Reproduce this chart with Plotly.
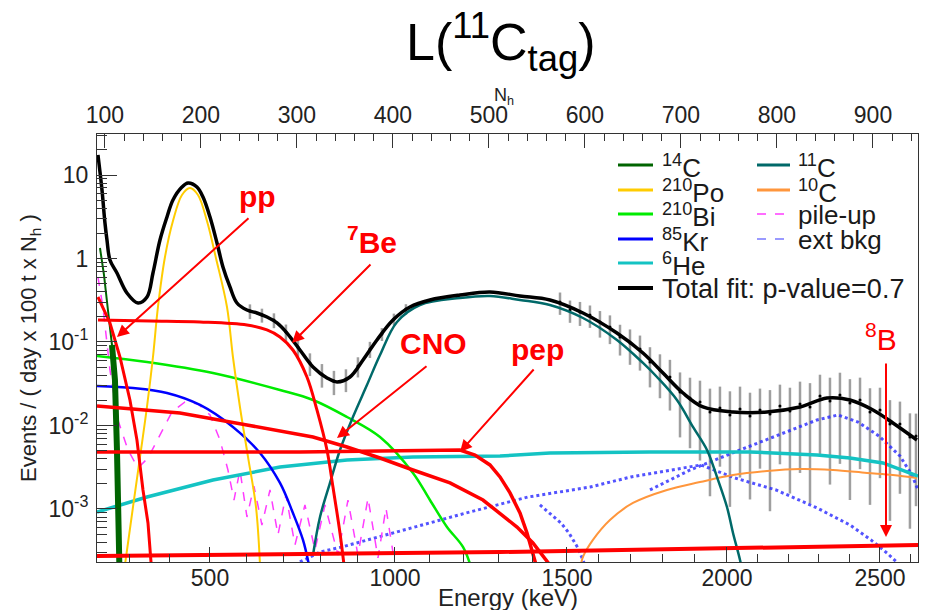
import numpy as np
import plotly.graph_objects as go

# ---------------- data (x: N_h, y: events / (day x 100 t x N_h)) ----------------
total_nh = [92.7, 96.9, 100.0, 102.1, 105.2, 112.5, 122.9, 134.4, 143.8, 150.0, 157.3, 164.6, 170.8,
            180.2, 186.5, 195.8, 202.1, 209.4, 216.7, 222.9, 230.2, 237.5, 247.9, 258.3, 268.8, 279.2,
            289.6, 303.1, 316.7, 331.3, 341.7, 355.2, 368.8, 383.3, 400.0, 417.7, 438.5, 469.8, 501.0,
            532.3, 563.5, 597.9, 633.3, 660.4, 681.3, 702.1, 722.9, 754.2, 789.6, 824.0, 852.1, 876.0,
            900.0, 920.8, 945.8]
total_y = [17.4, 6.61, 2.66, 1.665, 0.96, 0.670, 0.386, 0.293, 0.346, 0.670, 1.665, 3.14, 5.02,
           7.18, 8.02, 7.18, 5.45, 3.14, 1.533, 0.791, 0.456, 0.293, 0.2416, 0.2225, 0.199, 0.169,
           0.128, 0.0802, 0.0502, 0.0371, 0.0332, 0.0381, 0.0609, 0.1057, 0.1834, 0.2625, 0.3185, 0.3655, 0.397,
           0.3556, 0.3185, 0.2225, 0.128, 0.0738, 0.0425, 0.0245, 0.01666, 0.01452, 0.01452, 0.01666, 0.02134, 0.0202,
           0.01534, 0.01072, 0.0067]

data_nh = [251.0, 263.5, 276.0, 288.5, 301.0, 313.5, 326.0, 338.5, 351.0, 363.5, 376.0, 388.5, 401.0, 413.5,
           574.0, 584.4, 594.8, 605.2, 615.6, 626.0, 636.5, 646.9, 657.3, 667.7, 678.1, 688.5, 699.0,
           709.4, 719.8, 730.2, 740.6, 751.0, 761.5, 771.9, 782.3, 792.7, 803.1, 813.5, 824.0, 834.4,
           844.8, 855.2, 865.6, 876.0, 886.5, 896.9, 907.3, 917.7, 928.1, 938.5, 944.8]
data_y = [0.235, 0.2105, 0.1834, 0.1318, 0.0871, 0.0561, 0.0414, 0.0341, 0.0361, 0.0516, 0.0824, 0.1247, 0.1885, 0.2484,
          0.3013, 0.2416, 0.2287, 0.2105, 0.1738, 0.1513, 0.1148, 0.0973, 0.0824, 0.0576, 0.0462, 0.0381, 0.0252,
          0.02134, 0.0191, 0.01452, 0.01621, 0.01336, 0.01578, 0.0130, 0.01534, 0.01374, 0.01713, 0.01493, 0.0181, 0.01666,
          0.02256, 0.01966, 0.02317, 0.01858, 0.0202, 0.01452, 0.01534, 0.01042, 0.01042, 0.00728, 0.00748]
data_err = [0.047, 0.04, 0.037, 0.03, 0.022, 0.017, 0.013, 0.011, 0.011, 0.014, 0.018, 0.022, 0.03, 0.035,
            0.090, 0.072, 0.073, 0.063, 0.061, 0.057, 0.046, 0.044, 0.037, 0.029, 0.025, 0.023, 0.018,
            0.016, 0.0153, 0.0131, 0.013, 0.0123, 0.0134, 0.0117, 0.0123, 0.0128, 0.0137, 0.0134, 0.0154, 0.0155,
            0.018, 0.0177, 0.0197, 0.0173, 0.0172, 0.0134, 0.013, 0.0097, 0.0089, 0.0067, 0.0064]

c14_nh = [94.8, 99.0, 103.1, 107.3, 110.4, 112.5, 114.1, 115.1]
c14_y = [1.336, 0.634, 0.2416, 0.0921, 0.0351, 5.09e-3, 7.38e-4, 1.86e-4]

po_nh = [120.8, 129.2, 136.5, 143.75, 150.0, 155.2, 162.5, 170.8, 180.2, 188.5, 196.9, 206.25, 215.6,
         227.1, 233.3, 240.6, 249.0, 257.3, 261.5]
po_y = [2.13e-4, 1.057e-3, 4.2e-3, 0.01666, 0.0661, 0.2625, 1.042, 2.81, 5.76, 6.99, 5.76, 2.81, 1.014,
        0.2625, 0.0661, 0.01666, 4.2e-3, 1.057e-3, 2.13e-4]

bi_nh = [91.7, 143.75, 212.5, 282.3, 316.7, 352.1, 386.5, 420.8, 438.5, 456.25, 472.9, 482.3]
bi_y = [0.0680, 0.0576, 0.0425, 0.0266, 0.0202, 0.01264, 7.28e-3, 2.70e-3, 1.28e-3, 6.08e-4, 3.51e-4, 1.86e-4]

kr_nh = [91.7, 129.2, 164.6, 199.0, 233.3, 261.5, 282.3, 295.8, 306.25, 312.5]
kr_y = [0.0297, 0.0281, 0.0245, 0.0176, 9.6e-3, 4.69e-3, 2.05e-3, 8.95e-4, 4.26e-4, 2.13e-4]

he_nh = [91.7, 143.75, 212.5, 282.3, 352.1, 420.8, 511.5, 563.5, 667.7, 771.9, 841.7, 876.0, 910.4, 946.9]
he_y = [9.2e-4, 1.39e-3, 2.22e-3, 3.18e-3, 3.86e-3, 4.2e-3, 4.31e-3, 4.69e-3, 4.82e-3, 4.82e-3, 4.43e-3,
        4.08e-3, 3.56e-3, 2.48e-3]

c11_nh = [316.7, 324.0, 334.4, 344.8, 358.3, 372.9, 386.5, 404.2, 428.1, 469.8, 501.0, 532.3, 563.5,
          597.9, 633.3, 660.4, 675.0, 695.8, 712.5, 727.1, 737.5, 747.9, 754.2, 761.5, 764.6]
c11_y = [2.81e-4, 8.02e-4, 2.05e-3, 5.09e-3, 0.01264, 0.0305, 0.0699, 0.1738, 0.2772, 0.3364, 0.3556, 0.3185,
         0.2772, 0.1938, 0.1057, 0.0561, 0.0381, 0.0202, 9.6e-3, 5.09e-3, 2.42e-3, 1.057e-3, 5.16e-4, 2.45e-4, 1.62e-4]

c10_nh = [594.8, 597.9, 608.3, 626.0, 650.0, 685.4, 719.8, 754.2, 789.6, 824.0, 858.3, 893.75, 920.8, 945.8]
c10_y = [1.86e-4, 2.66e-4, 4.26e-4, 7.38e-4, 1.18e-3, 1.69e-3, 2.10e-3, 2.55e-3, 2.85e-3, 3.01e-3, 2.93e-3,
         2.70e-3, 2.55e-3, 2.35e-3]

pile_nh = [92.7, 97.9, 105.2, 113.5, 124.0, 134.4, 144.8, 157.3, 169.8, 183.3, 196.9, 209.4, 219.8, 228.1,
           234.4, 240.6, 247.9, 255.2, 263.5, 271.9, 280.2, 288.5, 297.9, 308.3, 318.75, 329.2, 342.7, 353.1,
           363.5, 374.0, 384.4, 392.7, 402.1]
pile_y = [0.60, 0.2625, 0.0462, 0.01164, 5.09e-3, 3.1e-3, 4.08e-3, 7.69e-3, 0.01452, 0.0191, 0.0181, 0.01336,
          6.7e-3, 2.93e-3, 1.28e-3, 2.93e-3, 8.02e-4, 1.88e-3, 6.43e-4, 1.69e-3, 4.89e-4, 1.47e-3, 3.7e-4,
          1.117e-3, 3.23e-4, 1.117e-3, 2.81e-4, 1.28e-3, 2.81e-4, 1.35e-3, 2.59e-4, 1.03e-3, 2.13e-4]

extA_nh = [303.1, 324.0, 346.9, 411.5, 476.0, 540.6, 605.2, 647.9, 691.7, 720.8, 756.25, 799.0, 841.7,
           876.0, 897.9, 914.6, 928.1]
extA_y = [2.32e-4, 3.05e-4, 3.51e-4, 5.61e-4, 8.95e-4, 1.39e-3, 1.83e-3, 2.42e-3, 2.93e-3, 3.37e-3, 2.35e-3,
          1.69e-3, 1.03e-3, 6.43e-4, 4.26e-4, 2.97e-4, 2.13e-4]
extB_nh = [667.7, 709.4, 756.25, 799.0, 841.7, 863.5, 884.4, 906.25, 928.1, 940.6, 946.9]
extB_y = [1.69e-3, 2.93e-3, 4.82e-3, 7.48e-3, 0.01164, 0.01336, 0.01101, 7.48e-3, 4.31e-3, 2.55e-3, 1.69e-3]
extC_nh = [553.1, 562.5, 575.0, 583.3, 592.7, 600.0]
extC_y = [1.117e-3, 8.95e-4, 6.8e-4, 5.16e-4, 3.41e-4, 2.13e-4]

pp_nh = [92.7, 105.2, 115.6, 126.0, 133.3, 139.6, 144.8, 146.9, 149.0]
pp_y = [0.346, 0.169, 0.0661, 0.0202, 6.7e-3, 1.69e-3, 6.8e-4, 2.66e-4, 1.62e-4]

be7_nh = [92.7, 146.9, 199.0, 247.9, 268.75, 282.3, 295.8, 310.4, 320.8, 331.25, 337.5, 344.8, 349.0]
be7_y = [0.1834, 0.1784, 0.1738, 0.160, 0.1393, 0.1148, 0.0802, 0.0381, 0.01534, 5.09e-3, 1.83e-3, 5.16e-4, 2.13e-4]

cno_nh = [91.7, 178.1, 247.9, 316.7, 352.1, 386.5, 420.8, 459.4, 493.75, 511.5, 529.2, 545.8, 563.5]
cno_y = [0.01713, 0.01413, 0.01014, 7.28e-3, 5.53e-3, 4.08e-3, 2.93e-3, 2.05e-3, 1.28e-3, 8.95e-4, 6.08e-4,
         3.92e-4, 2.13e-4]

pep_nh = [91.7, 303.1, 469.8, 485.4, 501.0, 511.5, 521.9, 532.3, 539.6, 545.8, 550.0]
pep_y = [4.82e-3, 4.82e-3, 5.09e-3, 4.43e-3, 3.37e-3, 2.42e-3, 1.56e-3, 8.95e-4, 5.16e-4, 2.97e-4, 1.96e-4]

b8_nh = [91.7, 511.5, 946.9]
b8_y = [2.74e-4, 3.05e-4, 3.7e-4]

# axis ticks / calibration (energy keV -> N_h)
nh_range = [91.7, 946.9]
y_range_log = [-3.635, 1.491]
e_major = [500, 1000, 1500, 2000, 2500]
e_cal = [200, 500, 1000, 1500, 2000, 2500, 2700]
nh_cal = [83.0, 209.4, 402.1, 581.25, 747.9, 907.3, 970.0]
e_minor = [e for e in range(200, 2700, 100) if e % 500 != 0]
y_major = [1e-3, 1e-2, 1e-1, 1, 10]
y_major_text = ["10<sup>-3</sup>", "10<sup>-2</sup>", "10<sup>-1</sup>", "1", "10"]
y_minor = [m * 10.0 ** k for k in range(-4, 2) for m in range(2, 10)]

# ---------------- colours ----------------
RED = "rgb(255,0,0)"
C14 = "rgb(0,100,0)"
PO = "rgb(255,204,0)"
BI = "rgb(0,235,0)"
KR = "rgb(0,0,255)"
HE = "rgb(20,195,195)"
C11 = "rgb(0,105,105)"
C10 = "rgb(255,150,60)"
PILE = "rgb(255,60,255)"
EXT = "rgba(40,40,255,0.8)"
FONT = "Liberation Sans, Arial, sans-serif"

fig = go.Figure()


def add_line(x, y, color, width, dash="solid", shape="linear"):
    fig.add_trace(go.Scatter(x=x, y=y, mode="lines",
                             line=dict(color=color, width=width, dash=dash, shape=shape),
                             hoverinfo="skip", showlegend=False))


# data with error bars
fig.add_trace(go.Scatter(x=data_nh, y=data_y, mode="markers",
                         marker=dict(size=3, color="black"),
                         error_y=dict(type="data", array=data_err, color="rgba(80,80,80,0.55)",
                                      thickness=2.5, width=0),
                         hoverinfo="skip", showlegend=False))

add_line(extA_nh, extA_y, EXT, 3, "dot")
add_line(extB_nh, extB_y, EXT, 3, "dot")
add_line(extC_nh, extC_y, EXT, 3, "dot")
add_line(pile_nh, pile_y, PILE, 1.5, "dash")
add_line(c10_nh, c10_y, C10, 2, shape="spline")
add_line(he_nh, he_y, HE, 3.5)
add_line(kr_nh, kr_y, KR, 2.5, shape="spline")
add_line(bi_nh, bi_y, BI, 2.5, shape="spline")
add_line(po_nh, po_y, PO, 2, shape="spline")
add_line(c14_nh, c14_y, C14, 2)
add_line(c14_nh[3:], c14_y[3:], C14, 6)
add_line(c11_nh, c11_y, C11, 2.5, shape="spline")
add_line(total_nh, total_y, "black", 3.5, shape="spline")
add_line(b8_nh, b8_y, RED, 4)
add_line(pep_nh, pep_y, RED, 3.5)
add_line(cno_nh, cno_y, RED, 3.5)
add_line(be7_nh, be7_y, RED, 3, shape="spline")
add_line(pp_nh, pp_y, RED, 3)

# dummy trace to activate the top N_h axis
fig.add_trace(go.Scatter(x=[nh_range[0]], y=[1], xaxis="x2", mode="markers",
                         marker=dict(opacity=0), hoverinfo="skip", showlegend=False))

# ---------------- layout ----------------
L, R, T, B = 97, 918, 134, 562
W_, H_ = R - L, B - T


def X(px):
    return (px - L) / W_


def Y(py):
    return (B - py) / H_


tickfont = dict(family=FONT, size=23, color="#222")

fig.update_layout(
    width=927, height=610,
    margin=dict(l=L, r=927 - R, t=T, b=610 - B),
    paper_bgcolor="white", plot_bgcolor="white",
    showlegend=False,
    xaxis=dict(range=nh_range, tickmode="array",
               tickvals=list(np.interp(e_major, e_cal, nh_cal)),
               ticktext=[str(e) for e in e_major],
               ticks="inside", ticklen=15, tickwidth=1, tickcolor="#333",
               minor=dict(tickmode="array", tickvals=list(np.interp(e_minor, e_cal, nh_cal)),
                          ticks="inside", ticklen=8, tickcolor="#333", showgrid=False),
               showline=True, linecolor="#333", linewidth=1, showgrid=False, zeroline=False,
               tickfont=tickfont, ticklabelstandoff=-5),
    xaxis2=dict(range=nh_range, overlaying="x", side="top", anchor="y",
                tickmode="linear", tick0=0, dtick=100,
                ticks="inside", ticklen=14, tickwidth=1, tickcolor="#333",
                minor=dict(dtick=20, tick0=0, ticks="inside", ticklen=7, tickcolor="#333", showgrid=False),
                showline=True, linecolor="#333", linewidth=1, showgrid=False, zeroline=False,
                tickfont=tickfont, ticklabelstandoff=1),
    yaxis=dict(type="log", range=y_range_log, tickmode="array",
               tickvals=y_major, ticktext=y_major_text,
               ticks="inside", ticklen=20, tickwidth=1, tickcolor="#333",
               minor=dict(tickmode="array", tickvals=y_minor, ticks="inside", ticklen=10,
                          tickcolor="#333", showgrid=False),
               showline=True, linecolor="#333", linewidth=1, mirror=True,
               showgrid=False, zeroline=False, tickfont=tickfont, ticklabelstandoff=3),
)

ann = []
# title & axis titles
ann.append(dict(text="L(<sup>11</sup>C<sub>tag</sub>)", x=X(501), y=Y(42), xref="paper", yref="paper",
                xanchor="center", yanchor="middle", showarrow=False,
                font=dict(family=FONT, size=52, color="black")))
ann.append(dict(text="N<sub>h</sub>", x=X(504), y=Y(96), xref="paper", yref="paper",
                xanchor="center", yanchor="middle", showarrow=False,
                font=dict(family=FONT, size=18, color="#222")))
ann.append(dict(text="Energy (keV)", x=X(508), y=Y(597), xref="paper", yref="paper",
                xanchor="center", yanchor="middle", showarrow=False,
                font=dict(family=FONT, size=24, color="#222")))
ann.append(dict(text="Events / ( day x 100 t x N<sub>h</sub> )", x=X(30), y=Y(348),
                xref="paper", yref="paper", xanchor="center", yanchor="middle",
                textangle=-90, showarrow=False,
                font=dict(family=FONT, size=22, color="#222")))

# neutrino labels
lab_font = dict(family=FONT, size=30, color=RED)
for txt, cx, cy in [("<b>pp</b>", 257, 196), ("<b><sup>7</sup>Be</b>", 372, 240),
                    ("<b>CNO</b>", 433, 343), ("<b>pep</b>", 537, 349), ("<sup>8</sup>B", 881, 337)]:
    ann.append(dict(text=txt, x=X(cx), y=Y(cy), xref="paper", yref="paper",
                    xanchor="center", yanchor="middle", showarrow=False, font=lab_font))

# arrows (tip, tail) in pixel positions of the frame
for (tx, ty), (sx, sy) in [((117, 337), (250, 217)), ((292, 343), (372, 263)),
                           ((337, 438), (428, 365)), ((460, 452), (535, 368)),
                           ((886, 537), (886, 362))]:
    ann.append(dict(text="", x=X(tx), y=Y(ty), xref="paper", yref="paper",
                    ax=sx - tx, ay=sy - ty, showarrow=True, arrowhead=2, arrowsize=1.2,
                    arrowwidth=2, arrowcolor=RED, standoff=0, startstandoff=0))

# legend (drawn manually, two columns)
shapes = []
legend_col1 = [("<sup>14</sup>C", C14, "solid"), ("<sup>210</sup>Po", PO, "solid"),
               ("<sup>210</sup>Bi", BI, "solid"), ("<sup>85</sup>Kr", KR, "solid"),
               ("<sup>6</sup>He", HE, "solid"), ("Total fit: p-value=0.7", "black", "solid")]
legend_col2 = [("<sup>11</sup>C", C11, "solid"), ("<sup>10</sup>C", C10, "solid"),
               ("pile-up", PILE, "dash"), ("ext bkg", "rgb(120,120,255)", "dash")]
rows = [165, 190, 214, 239, 263, 288]
for entries, x0, x1, xt in [(legend_col1, 618, 653, 660), (legend_col2, 757, 790, 796)]:
    for (txt, col, dash), ry in zip(entries, rows):
        thin = dash != "solid"
        shapes.append(dict(type="line", xref="paper", yref="paper", x0=X(x0), x1=X(x1),
                           y0=Y(ry), y1=Y(ry),
                           line=dict(color=col, width=1.5 if thin else (4 if col == "black" else 3),
                                     dash=dash)))
        size = 27 if txt.startswith("Total") else 26
        ann.append(dict(text=txt, x=X(xt), y=Y(ry + 1), xref="paper", yref="paper",
                        xanchor="left", yanchor="middle", showarrow=False,
                        font=dict(family=FONT, size=size, color="#1a1a1a")))

fig.update_layout(annotations=ann, shapes=shapes)
fig.write_html("out.html")
